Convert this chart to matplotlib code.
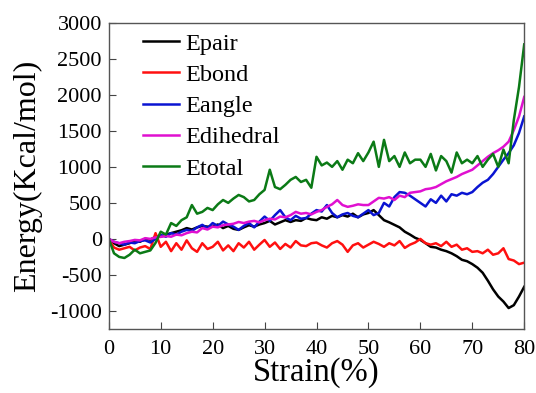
import matplotlib.pyplot as plt
import numpy as np

# strain in %, one point per 1 %
strain = np.arange(0, 81)

epair = [0, -60, -100, -80, -60, -20, -40, 0, -10, 30,
         30, 60, 80, 100, 120, 150, 130, 160, 180, 170,
         170, 200, 150, 180, 140, 125, 160, 190, 170, 200,
         220, 250, 200, 230, 260, 235, 260, 250, 290, 270,
         260, 300, 280, 320, 300, 330, 310, 350, 300, 340,
         360, 400, 330, 260, 230, 195, 160, 100, 60, 15,
         -14, -60, -110, -120, -150, -170, -200, -240, -290, -310,
         -350, -400, -470, -580, -700, -800, -870, -960, -920, -800, -665]

ebond = [0, -120, -150, -130, -110, -160, -120, -100, -140, 80,
         -110, -40, -170, -60, -150, -20, -130, -180, -60, -140,
         -110, -40, -160, -90, -170, -60, -120, -40, -150, -80,
         -15, -110, -50, -140, -70, -120, -30, -90, -100, -60,
         -50, -90, -120, -60, -30, -80, -180, -90, -60, -120,
         -80, -40, -70, -110, -60, -90, -30, -125, -80, -50,
         0, -60, -80, -60, -100, -40, -110, -80, -150, -130,
         -180, -170, -200, -150, -220, -200, -130, -280, -300, -350, -330]

eangle = [0, -40, -60, -80, -50, -60, -30, -20, -50, 0,
          55, 30, 80, 60, 100, 125, 110, 160, 195, 150,
          220, 180, 240, 200, 170, 125, 180, 220, 160, 240,
          310, 250, 330, 400, 300, 260, 320, 280, 290, 350,
          400, 380, 470, 360, 300, 340, 360, 320, 300, 350,
          400, 330, 360, 500, 450, 580, 650, 640, 600, 550,
          500, 450, 550, 500, 600, 520, 620, 600, 640, 620,
          650, 720, 780, 820, 900, 1000, 1100, 1190, 1300, 1470, 1700]

edihedral = [0, -40, -60, -40, -30, -14, -20, 10, 0, 20,
             28, 40, 30, 60, 50, 80, 100, 90, 150, 130,
             170, 160, 190, 200, 210, 235, 220, 240, 250, 230,
             260, 280, 270, 310, 300, 330, 375, 350, 360, 340,
             375, 400, 445, 480, 540, 470, 445, 460, 480, 470,
             470, 520, 570, 560, 580, 540, 600, 580, 640, 650,
             660, 690, 700, 720, 760, 800, 830, 860, 900, 930,
             960, 1020, 1080, 1140, 1190, 1230, 1280, 1350, 1510, 1700, 1970]

etotal = [0, -200, -250, -265, -220, -150, -200, -180, -160, -55,
          100, 60, 220, 180, 260, 300, 470, 350, 375, 430,
          400, 480, 540, 500, 560, 610, 580, 520, 540, 620,
          680, 960, 720, 690, 750, 820, 860, 790, 820, 710,
          1140, 1020, 1060, 1000, 1080, 960, 1100, 1050, 1190, 1080,
          1200, 1350, 1000, 1375, 1080, 1150, 1000, 1200, 1050, 1100,
          1100, 1000, 1180, 950, 1150, 1080, 920, 1200, 1050, 1100,
          1050, 1150, 1000, 1100, 1180, 1000, 1240, 1050, 1650, 2110, 2700]

names = ['Epair', 'Ebond', 'Eangle', 'Edihedral', 'Etotal']
series = [epair, ebond, eangle, edihedral, etotal]
colors = ['#000000', '#ff1010', '#0a14d2', '#e010d0', '#0b7a16']

plt.rcParams['font.family'] = 'Liberation Serif'
plt.rcParams['axes.unicode_minus'] = False

fig = plt.figure(figsize=(5.36, 3.93), dpi=100)
ax = fig.add_axes([0.203, 0.163, 0.775, 0.779])

for name, vals, c in zip(names, series, colors):
    ax.plot(strain, vals, color=c, lw=1.8, label=name)

ax.set_xlim(0, 80)
ax.set_ylim(-1250, 3000)
ax.set_xticks(range(0, 81, 10))
ax.set_yticks(range(-1000, 3001, 500))
ax.tick_params(direction='in', length=5, labelsize=16, top=False, right=False,
               color='#444444')
ax.tick_params(axis='x', pad=8)
ax.tick_params(axis='y', pad=5)
for s in ax.spines.values():
    s.set_color('#555555')
    s.set_linewidth(1.0)

ax.set_xlabel('Strain(%)', fontsize=23.5, labelpad=-1)
ax.set_ylabel('Energy(Kcal/mol)', fontsize=23, labelpad=6)

ax.legend(loc='upper left', frameon=False, fontsize=17.5, handlelength=1.5,
          handletextpad=0.25, labelspacing=0.38, borderaxespad=0,
          bbox_to_anchor=(0.058, 1.0))

fig.savefig('out.png', dpi=100)
